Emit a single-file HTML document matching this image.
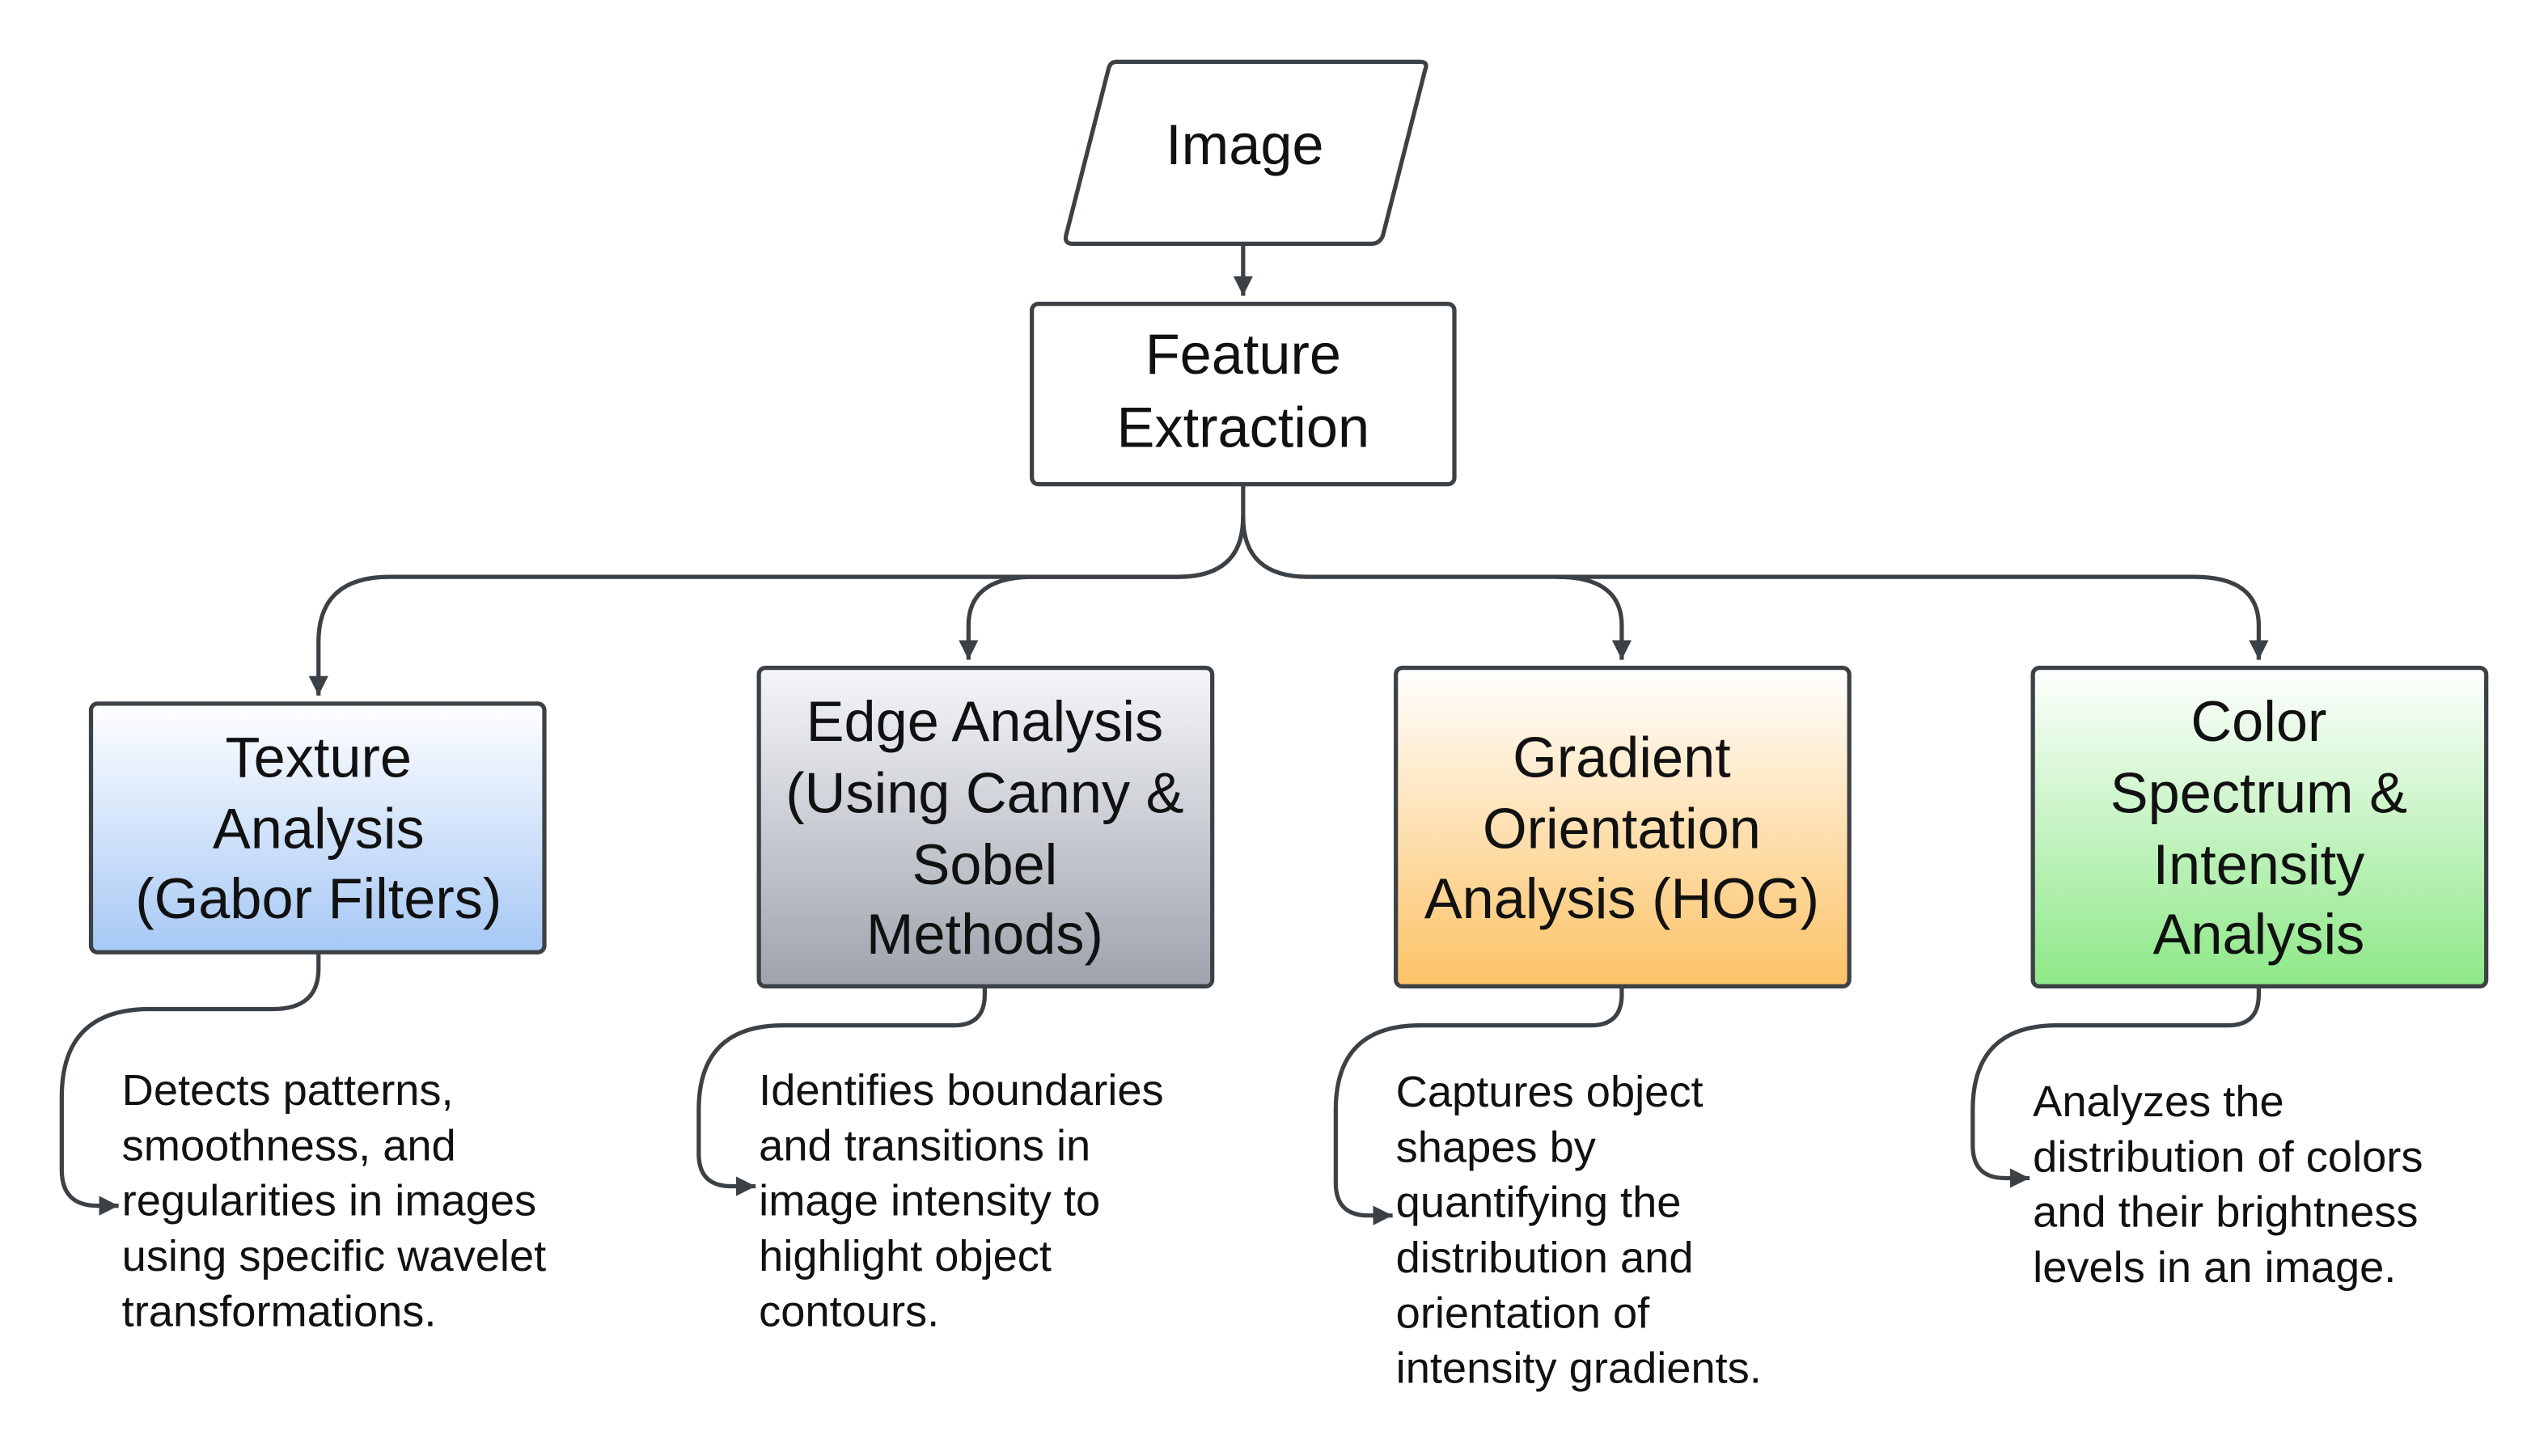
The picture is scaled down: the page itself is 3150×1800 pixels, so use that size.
<!DOCTYPE html>
<html><head><meta charset="utf-8"><style>
html,body{margin:0;padding:0;background:#fff;}
svg{display:block;}
text{font-family:"Liberation Sans",Arial,sans-serif;fill:#111;}
.b{font-size:35px;text-anchor:middle;}
.d{font-size:27px;}
.ln{fill:none;stroke:#3c4146;stroke-width:2.6;}
.bx{stroke:#3c4146;stroke-width:2.6;}
</style></head><body>
<svg width="3150" height="1800" viewBox="0 0 1568 896" xmlns="http://www.w3.org/2000/svg">
<defs>
<marker id="a" markerUnits="userSpaceOnUse" markerWidth="14" markerHeight="14" refX="12" refY="6" orient="auto"><path d="M0,0 L12,6 L0,12 z" fill="#3c4146"/></marker>
<linearGradient id="gb" x1="0" y1="0" x2="0" y2="1"><stop offset="0" stop-color="#ffffff"/><stop offset="1" stop-color="#a6c8f5"/></linearGradient>
<linearGradient id="gg" x1="0" y1="0" x2="0" y2="1"><stop offset="0" stop-color="#f4f6f9"/><stop offset="1" stop-color="#9ea3ac"/></linearGradient>
<linearGradient id="go" x1="0" y1="0" x2="0" y2="1"><stop offset="0" stop-color="#ffffff"/><stop offset="1" stop-color="#fcc266"/></linearGradient>
<linearGradient id="gn" x1="0" y1="0" x2="0" y2="1"><stop offset="0" stop-color="#ffffff"/><stop offset="1" stop-color="#8de887"/></linearGradient>
</defs>
<path class="bx" fill="#fff" stroke-linejoin="round" d="M687 38 L874 38 Q879 38 877 43 L851 145 Q849 150 844 150 L660 150 Q655 150 656 145 L682 43 Q683 38 687 38 Z"/>
<text class="b" x="766" y="101">Image</text>
<path class="ln" d="M765 150 L765 182" marker-end="url(#a)"/>
<rect class="bx" x="635" y="187" width="260" height="111" rx="4" fill="#fff"/>
<text class="b" x="765" y="230">Feature</text>
<text class="b" x="765" y="275">Extraction</text>
<path class="ln" d="M765 298 L765 318 Q765 355 725 355 L240 355 Q196 355 196 395 L196 428" marker-end="url(#a)"/>
<path class="ln" d="M765 318 Q765 355 725 355 L636 355 Q596 355 596 385 L596 406" marker-end="url(#a)"/>
<path class="ln" d="M765 318 Q765 355 805 355 L958 355 Q998 355 998 385 L998 406" marker-end="url(#a)"/>
<path class="ln" d="M958 355 L1350 355 Q1390 355 1390 385 L1390 406"  marker-end="url(#a)"/>
<rect class="bx" x="56" y="433" width="279" height="153" rx="4" fill="url(#gb)"/>
<text class="b" x="196" y="478">Texture</text>
<text class="b" x="196" y="522">Analysis</text>
<text class="b" x="196" y="565">(Gabor Filters)</text>
<rect class="bx" x="467" y="411" width="279" height="196" rx="4" fill="url(#gg)"/>
<text class="b" x="606" y="456">Edge Analysis</text>
<text class="b" x="606" y="500">(Using Canny &amp;</text>
<text class="b" x="606" y="544">Sobel</text>
<text class="b" x="606" y="587">Methods)</text>
<rect class="bx" x="859" y="411" width="279" height="196" rx="4" fill="url(#go)"/>
<text class="b" x="998" y="478">Gradient</text>
<text class="b" x="998" y="522">Orientation</text>
<text class="b" x="998" y="565">Analysis (HOG)</text>
<rect class="bx" x="1251" y="411" width="279" height="196" rx="4" fill="url(#gn)"/>
<text class="b" x="1390" y="456">Color</text>
<text class="b" x="1390" y="500">Spectrum &amp;</text>
<text class="b" x="1390" y="544">Intensity</text>
<text class="b" x="1390" y="587">Analysis</text>
<path class="ln" d="M196 586 L196 596 Q196 621 168 621 L92 621 Q38 621 38 675 L38 720 Q38 742 60 742 L73 742" marker-end="url(#a)"/>
<path class="ln" d="M606 607 L606 612 Q606 631 587 631 L482 631 Q430 631 430 683 L430 710 Q430 730 450 730 L465 730" marker-end="url(#a)"/>
<path class="ln" d="M998 607 L998 612 Q998 631 979 631 L874 631 Q822 631 822 683 L822 728 Q822 748 842 748 L857 748" marker-end="url(#a)"/>
<path class="ln" d="M1390 607 L1390 612 Q1390 631 1371 631 L1266 631 Q1214 631 1214 683 L1214 705 Q1214 725 1234 725 L1249 725" marker-end="url(#a)"/>
<g class="d">
<text x="75" y="680">Detects patterns,</text>
<text x="75" y="714">smoothness, and</text>
<text x="75" y="748">regularities in images</text>
<text x="75" y="782">using specific wavelet</text>
<text x="75" y="816">transformations.</text>
<text x="467" y="680">Identifies boundaries</text>
<text x="467" y="714">and transitions in</text>
<text x="467" y="748">image intensity to</text>
<text x="467" y="782">highlight object</text>
<text x="467" y="816">contours.</text>
<text x="859" y="681">Captures object</text>
<text x="859" y="715">shapes by</text>
<text x="859" y="749">quantifying the</text>
<text x="859" y="783">distribution and</text>
<text x="859" y="817">orientation of</text>
<text x="859" y="851">intensity gradients.</text>
<text x="1251" y="687">Analyzes the</text>
<text x="1251" y="721">distribution of colors</text>
<text x="1251" y="755">and their brightness</text>
<text x="1251" y="789">levels in an image.</text>
</g>
</svg>
</body></html>
